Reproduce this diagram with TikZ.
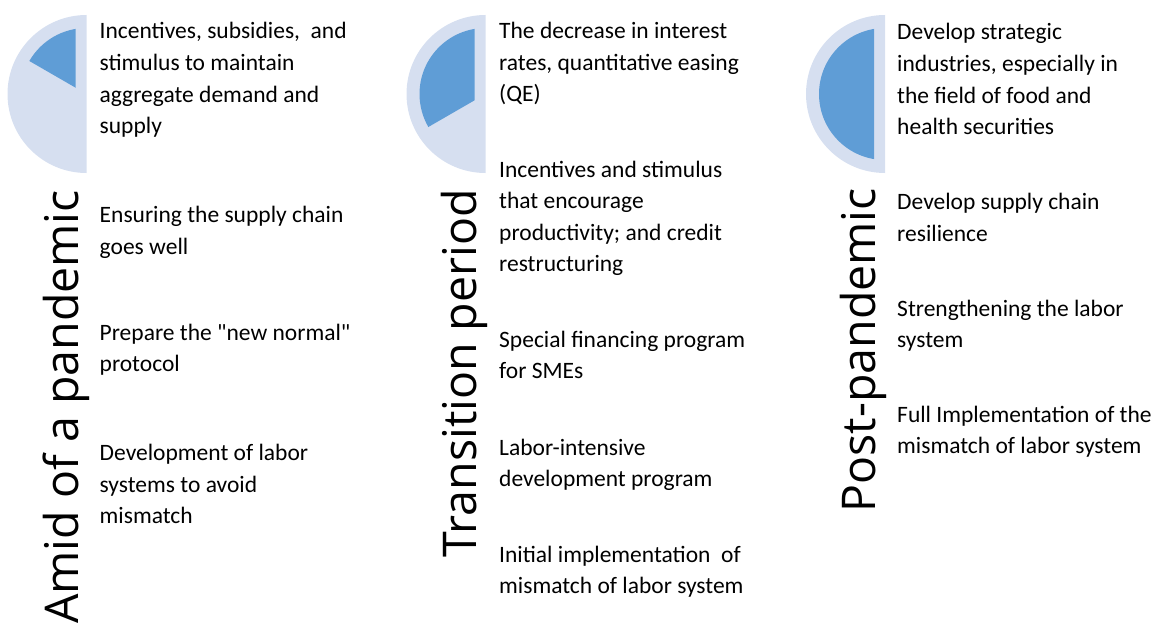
\documentclass[tikz,border=0pt]{standalone}
\usepackage{fontspec}
\setmainfont{Carlito}
\newfontfamily\titlefont{Open Sans}
\definecolor{pielight}{HTML}{D6DFF0}
\definecolor{piedark}{HTML}{5F9DD6}
\newcommand\itemlines[1]{\begin{tabular}[t]{@{}l@{}}#1\end{tabular}}
\tikzset{
  x=1pt, y=1pt,
  itemtext/.style={anchor=base west, inner sep=0pt, font=\fontsize{23.5}{31.6}\selectfont},
  phasetitle/.style={anchor=base east, inner sep=0pt, rotate=90, font=\titlefont\fontsize{46.5}{50}\selectfont},
}
% progress half-pie: outer light half disc, inner dark sector up to angle #2
\newcommand\progresspie[3]{%
  \fill[pielight] (#1,-94) -- (#1,-15) arc[start angle=90, end angle=270, radius=79] -- cycle;
  \begin{scope}
    \clip (#1-100,0) rectangle (#1-11,-200);
    \fill[piedark] (#1,-94) -- (#1,-28) arc[start angle=90, end angle=#2, radius=66] -- cycle;
  \end{scope}
  \coordinate (#3) at (#1,-94);
}
\begin{document}
\begin{tikzpicture}
\useasboundingbox (0,0) rectangle (1166,-623);

% phase 1
\progresspie{86.5}{150}{pieA}
\node[phasetitle] (titleA) at (78,-190) {Amid of a pandemic};
\node[itemtext] (a1) at (99.5,-39) {\itemlines{Incentives, subsidies,~ and\\stimulus to maintain\\aggregate demand and\\supply}};
\node[itemtext] (a2) at (99.5,-222.5) {\itemlines{Ensuring the supply chain\\goes well}};
\node[itemtext] (a3) at (99.5,-340) {\itemlines{Prepare the \textquotedbl new normal\textquotedbl\\protocol}};
\node[itemtext] (a4) at (99.5,-460.5) {\itemlines{Development of labor\\systems to avoid\\mismatch}};

% phase 2
\progresspie{485.5}{210}{pieB}
\node[phasetitle] (titleB) at (476,-189) {Transition period};
\node[itemtext] (b1) at (499,-38.5) {\itemlines{The decrease in interest\\rates, quantitative easing\\(QE)}};
\node[itemtext] (b2) at (499,-177) {\itemlines{Incentives and stimulus\\that encourage\\productivity; and credit\\restructuring}};
\node[itemtext] (b3) at (499,-347) {\itemlines{Special financing program\\for SMEs}};
\node[itemtext] (b4) at (499,-455) {\itemlines{Labor-intensive\\development program}};
\node[itemtext] (b5) at (499,-562) {\itemlines{Initial implementation~ of\\mismatch of labor system}};

% phase 3
\progresspie{885}{270}{pieC}
\node[phasetitle] (titleC) at (875,-188) {Post-pandemic};
\node[itemtext] (c1) at (897,-40) {\itemlines{Develop strategic\\industries, especially in\\the field of food and\\health securities}};
\node[itemtext] (c2) at (897,-209.5) {\itemlines{Develop supply chain\\resilience}};
\node[itemtext] (c3) at (897,-316) {\itemlines{Strengthening the labor\\system}};
\node[itemtext] (c4) at (897,-422) {\itemlines{Full Implementation of the\\mismatch of labor system}};
\end{tikzpicture}
\end{document}
